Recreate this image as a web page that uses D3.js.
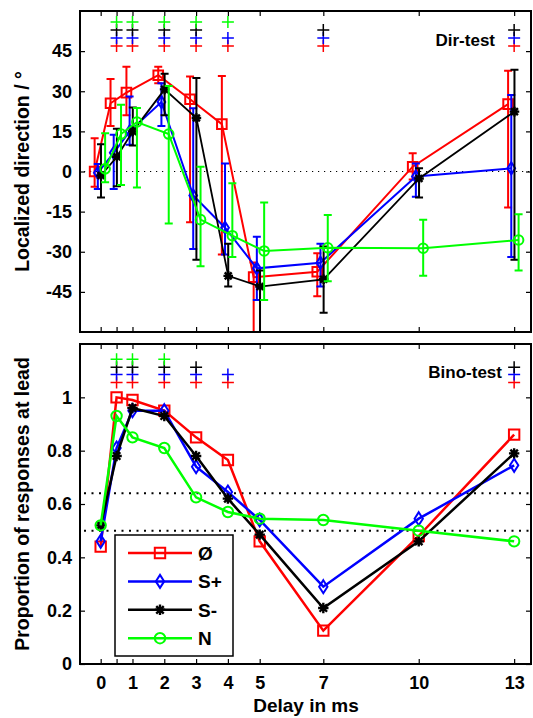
<!DOCTYPE html>
<html>
<head>
<meta charset="utf-8">
<script src="https://cdn.jsdelivr.net/npm/d3@7"></script>
<style>
body { margin: 0; background: #fff; }
text { font-family: "Liberation Sans", Arial, sans-serif; font-weight: bold; }
</style>
</head>
<body>
<svg id="fig" width="533" height="718"></svg>
<script>
// x positions (delay in ms) and tick labels
var delays = [0, 0.5, 1, 2, 3, 4, 5, 7, 10, 13];
var xTicks = [0, 0.5, 1, 2, 3, 4, 5, 7, 10, 13];
var xTickLabels = ["0", "", "1", "2", "3", "4", "5", "7", "10", "13"];
var dirTicks = [-45, -30, -15, 0, 15, 30, 45];
var binoTicks = [0, 0.2, 0.4, 0.6, 0.8, 1];

var seriesNames = ["Ø", "S+", "S-", "N"];
var seriesColors = ["#ff0000", "#0000ff", "#000000", "#00ff00"];
var seriesSymbols = ["square", "diamond", "star", "circle"];
var dirJitter = [-0.19, -0.09, 0.01, 0.14];

// Dir-test: localized direction (deg), with lower / upper error bar ends
var dirO    = [0, 25.5, 29.5, 36, 27, 17.7, -39.5, -37.5, 1.8, 25.2];
var dirOLo  = [-5.7, 17, 21, 33, -19, -31, -75, -46.6, -3, -13.5];
var dirOHi  = [12.4, 34.6, 39.2, 39.2, 35.5, 35.7, -34, -30.6, 6.8, 37.7];
var dirSp   = [-0.5, 7, 15, 26, -9, -21, -36.2, -34.1, -1.9, 1.2];
var dirSpLo = [-6.5, -6.5, 10, 17, -29, -31, -48, -43, -9.4, -32];
var dirSpHi = [2.8, 13.7, 28, 33, 23.6, 3, -24.4, -27, 3, 28.6];
var dirSm   = [-1.5, 5.5, 15, 30.7, 20, -39, -43, -40.3, -2.6, 22.4];
var dirSmLo = [-9.7, -5.5, 9.7, 21, -33, -43, -75, -52.8, -9.7, -33];
var dirSmHi = [10.2, 16, 23.9, 36.5, 35, -27, -37, -28, 1.2, 38];
var dirN    = [1, 14, 18.5, 14, -18, -24, -29.7, -28.5, -28.7, -25.6];
var dirNLo  = [-4, -5, -6, -19.4, -35.4, -32, -48, -41, -39, -37];
var dirNHi  = [14.3, 25, 23.7, 32, 1.8, -4.4, -11.6, -16.3, -18, -16];

// Bino-test: proportion of responses at lead
var binoO  = [0.44, 1.0, 0.99, 0.95, 0.85, 0.765, 0.46, 0.125, 0.48, 0.86];
var binoSp = [0.46, 0.81, 0.95, 0.95, 0.74, 0.645, 0.54, 0.29, 0.545, 0.745];
var binoSm = [0.52, 0.78, 0.96, 0.93, 0.78, 0.62, 0.485, 0.21, 0.46, 0.79];
var binoN  = [0.52, 0.93, 0.85, 0.81, 0.625, 0.57, 0.545, 0.54, 0.5, 0.46];

// significance "+" marks (delays) per series
var dirSigO  = [0.5, 1, 2, 3, 4, 7, 13];
var dirSigSp = [0.5, 1, 2, 3, 4, 7, 13];
var dirSigSm = [0.5, 1, 2, 3, 7, 13];
var dirSigN  = [0.5, 1, 2, 3, 4];
var binoSigO  = [0.5, 1, 2, 3, 4, 13];
var binoSigSp = [0.5, 1, 2, 3, 4, 13];
var binoSigSm = [0.5, 1, 2, 3, 13];
var binoSigN  = [0.5, 1, 2];
var dirSigLevels = [46.9, 49.9, 52.9, 55.9];
var binoSigLevels = [1.056, 1.086, 1.113, 1.143];

var dirRefLines = [0];
var binoRefLines = [0.5, 0.64];

var svg = d3.select("#fig");

var x = d3.scaleLinear().domain([-0.65, 13.53]).range([80, 531]);
var yDir = d3.scaleLinear().domain([-60, 60]).range([332, 11]);
var yBino = d3.scaleLinear().domain([0, 1.2]).range([664, 344]);

function symbolPath(type, r){
	switch(type){
		case "square":
			return "M" + (-r) + "," + (-r) + "h" + (2*r) + "v" + (2*r) + "h" + (-2*r) + "Z";
		case "diamond":
			return "M0," + (-r*1.25) + "L" + (r*0.8) + ",0L0," + (r*1.25) + "L" + (-r*0.8) + ",0Z";
		case "circle":
			return "M" + (-r) + ",0a" + r + "," + r + " 0 1,0 " + (2*r) + ",0a" + r + "," + r + " 0 1,0 " + (-2*r) + ",0";
		case "star":
			var d = r*0.72;
			return "M" + (-r) + ",0h" + (2*r) + "M0," + (-r) + "v" + (2*r) +
				"M" + (-d) + "," + (-d) + "L" + d + "," + d + "M" + (-d) + "," + d + "L" + d + "," + (-d);
	}
}

function drawMarker(g, type, color, cx, cy, r){
	g.append("path")
		.attr("d", symbolPath(type, r))
		.attr("transform", "translate(" + cx + "," + cy + ")")
		.attr("fill", type == "star" ? color : "none")
		.attr("stroke", color)
		.attr("stroke-width", type == "star" ? 2.4 : 2);
}

function drawAxes(y, ticks, showXLabels, clipId){
	var xr = x.range(), yr = y.range();
	var g = svg.append("g").attr("class", "axes");
	g.append("g").attr("transform", "translate(0," + yr[0] + ")")
		.call(d3.axisBottom(x).tickValues(xTicks).tickSize(-5).tickPadding(12)
			.tickFormat(function(d, i){ return showXLabels ? xTickLabels[i] : ""; }));
	g.append("g").attr("transform", "translate(0," + yr[1] + ")")
		.call(d3.axisTop(x).tickValues(xTicks).tickSize(-5).tickFormat(""));
	g.append("g").attr("transform", "translate(" + xr[0] + ",0)")
		.call(d3.axisLeft(y).tickValues(ticks).tickSize(-5).tickPadding(8)
			.tickFormat(function(d){ return String(d); }));
	g.append("g").attr("transform", "translate(" + xr[1] + ",0)")
		.call(d3.axisRight(y).tickValues(ticks).tickSize(-5).tickFormat(""));
	g.selectAll(".domain").remove();
	g.selectAll(".tick line").attr("stroke", "#000").attr("stroke-width", 1.2);
	g.selectAll(".tick text").attr("font-size", "18px").attr("fill", "#000");
	g.append("rect")
		.attr("x", xr[0]).attr("y", yr[1])
		.attr("width", xr[1] - xr[0]).attr("height", yr[0] - yr[1])
		.attr("fill", "none").attr("stroke", "#000").attr("stroke-width", 2);

	svg.append("clipPath").attr("id", clipId).append("rect")
		.attr("x", xr[0]).attr("y", yr[1])
		.attr("width", xr[1] - xr[0]).attr("height", yr[0] - yr[1]);
}

function drawRefLines(y, values, dash, width){
	svg.selectAll(null).data(values).enter()
		.append("line")
		.attr("x1", x.range()[0] + 4).attr("x2", x.range()[1] - 2)
		.attr("y1", function(d){ return y(d); })
		.attr("y2", function(d){ return y(d); })
		.attr("stroke", "#000").attr("stroke-width", width)
		.attr("stroke-dasharray", dash);
}

function drawSig(y, sigLists, levels){
	var g = svg.append("g");
	sigLists.forEach(function(list, s){
		list.forEach(function(d){
			var cx = x(d), cy = y(levels[s]);
			g.append("path")
				.attr("d", "M" + (cx - 6) + "," + cy + "h12M" + cx + "," + (cy - 6) + "v12")
				.attr("stroke", seriesColors[s]).attr("stroke-width", 1.5);
		});
	});
}

// ---------------- top panel: Dir-test ----------------
drawRefLines(yDir, dirRefLines, "1.2,4.8", 1.2);

var dirMeans = [dirO, dirSp, dirSm, dirN];
var dirLos = [dirOLo, dirSpLo, dirSmLo, dirNLo];
var dirHis = [dirOHi, dirSpHi, dirSmHi, dirNHi];

var dirG = svg.append("g").attr("clip-path", "url(#clipDir)");
dirMeans.forEach(function(means, s){
	var off = dirJitter[s], col = seriesColors[s];
	var g = dirG.append("g");
	// error bars
	delays.forEach(function(d, i){
		var cx = x(d + off);
		g.append("path")
			.attr("d", "M" + cx + "," + yDir(dirLos[s][i]) + "V" + yDir(dirHis[s][i]) +
				"M" + (cx - 4) + "," + yDir(dirLos[s][i]) + "h8" +
				"M" + (cx - 4) + "," + yDir(dirHis[s][i]) + "h8")
			.attr("fill", "none").attr("stroke", col).attr("stroke-width", 2);
	});
	var line = d3.line()
		.x(function(d, i){ return x(delays[i] + off); })
		.y(function(d){ return yDir(d); });
	g.append("path").datum(means)
		.attr("d", line)
		.attr("fill", "none").attr("stroke", col)
		.attr("stroke-width", s == 2 ? 1.8 : 2);
	means.forEach(function(v, i){
		drawMarker(g, seriesSymbols[s], col, x(delays[i] + off), yDir(v), 4.8);
	});
});
drawAxes(yDir, dirTicks, false, "clipDir");
drawSig(yDir, [dirSigO, dirSigSp, dirSigSm, dirSigN], dirSigLevels);

svg.append("text").attr("x", 495).attr("y", 46)
	.attr("text-anchor", "end").attr("font-size", "17px").text("Dir-test");

// ---------------- bottom panel: Bino-test ----------------
drawRefLines(yBino, binoRefLines, "2,5.5", 2);

var binoSeries = [binoO, binoSp, binoSm, binoN];
var binoG = svg.append("g").attr("clip-path", "url(#clipBino)");
binoSeries.forEach(function(vals, s){
	var col = seriesColors[s];
	var line = d3.line()
		.x(function(d, i){ return x(delays[i]); })
		.y(function(d){ return yBino(d); });
	binoG.append("path").datum(vals)
		.attr("d", line)
		.attr("fill", "none").attr("stroke", col).attr("stroke-width", 2.5);
	vals.forEach(function(v, i){
		drawMarker(binoG, seriesSymbols[s], col, x(delays[i]), yBino(v), 5.2);
	});
});
drawAxes(yBino, binoTicks, true, "clipBino");
drawSig(yBino, [binoSigO, binoSigSp, binoSigSm, binoSigN], binoSigLevels);

svg.append("text").attr("x", 502).attr("y", 378)
	.attr("text-anchor", "end").attr("font-size", "17px").text("Bino-test");

// legend
var legend = svg.append("g");
legend.append("rect")
	.attr("x", 115).attr("y", 535).attr("width", 118).attr("height", 121)
	.attr("fill", "#fff").attr("stroke", "#000").attr("stroke-width", 1.5);
seriesNames.forEach(function(name, s){
	var ly = 553 + s * 28.4;
	legend.append("line")
		.attr("x1", 128).attr("x2", 192).attr("y1", ly).attr("y2", ly)
		.attr("stroke", seriesColors[s]).attr("stroke-width", 2.5);
	drawMarker(legend, seriesSymbols[s], seriesColors[s], 160, ly, 5.2);
	legend.append("text").attr("x", 198).attr("y", ly)
		.attr("dy", "0.36em").attr("font-size", "19px").text(name);
});

// axis labels
svg.append("text")
	.attr("transform", "translate(29,171.5) rotate(-90)")
	.attr("text-anchor", "middle").attr("font-size", "19.5px")
	.text("Localized direction / °");
svg.append("text")
	.attr("transform", "translate(29,504) rotate(-90)")
	.attr("text-anchor", "middle").attr("font-size", "19.5px")
	.text("Proportion of responses at lead");
svg.append("text")
	.attr("x", 306).attr("y", 712)
	.attr("text-anchor", "middle").attr("font-size", "19px")
	.text("Delay in ms");
</script>
</body>
</html>
